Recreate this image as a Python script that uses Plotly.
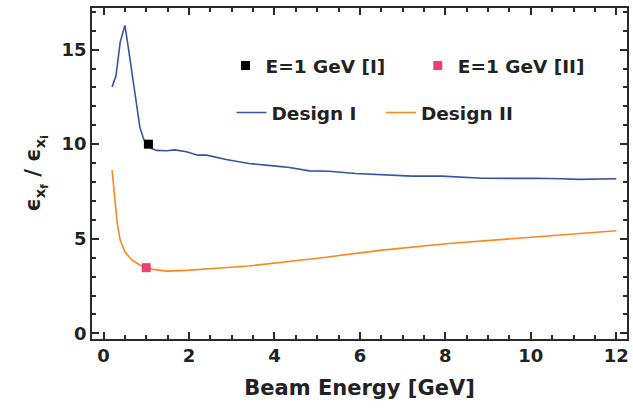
import plotly.graph_objects as go

# Data
design1_x = [0.2, 0.29, 0.39, 0.5, 0.58, 0.68, 0.78, 0.85, 0.95, 1.05, 1.13, 1.24, 1.47, 1.67, 1.94,
             2.21, 2.41, 2.87, 3.4, 4.04, 4.35, 4.82, 5.28, 5.9, 6.52, 7.22, 7.92, 8.86, 9.63, 10.1,
             10.72, 11.11, 12.0]
design1_y = [13.03, 13.6, 15.4, 16.28, 15.1, 13.55, 11.8, 10.9, 10.2, 9.95, 9.77, 9.67, 9.65, 9.7, 9.6,
             9.42, 9.42, 9.19, 8.98, 8.84, 8.77, 8.59, 8.57, 8.45, 8.4, 8.31, 8.31, 8.2, 8.19, 8.2,
             8.17, 8.14, 8.17]

design2_x = [0.2, 0.22, 0.27, 0.32, 0.39, 0.5, 0.66, 0.85, 1.0, 1.16, 1.48, 1.94, 2.64, 3.4, 4.97,
             6.52, 8.08, 9.63, 12.0]
design2_y = [8.63, 8.1, 7.04, 5.81, 4.93, 4.31, 3.88, 3.61, 3.47, 3.38, 3.29, 3.33, 3.44, 3.56, 3.96,
             4.4, 4.75, 5.02, 5.42]

point1_x = [1.05]
point1_y = [10.0]
point2_x = [1.0]
point2_y = [3.47]

x_range = [-0.27, 12.25]
y_range = [-0.3, 17.2]
x_tick_step = 2
x_minor_step = 0.5
y_tick_step = 5
y_minor_step = 1

BLUE = "#3853a4"
ORANGE = "#f7891f"
PINK = "#ec3f74"
TXT = "#222222"
AX = "#2a2a2a"
FONT = "DejaVu Sans"

fig = go.Figure()
fig.add_trace(go.Scatter(x=design1_x, y=design1_y, mode="lines", name="<b>Design I</b>",
                         line=dict(color=BLUE, width=1.6), legend="legend3"))
fig.add_trace(go.Scatter(x=design2_x, y=design2_y, mode="lines", name="<b>Design II</b>",
                         line=dict(color=ORANGE, width=1.6), legend="legend4"))
fig.add_trace(go.Scatter(x=point1_x, y=point1_y, mode="markers", name="<b>E=1 GeV [I]</b>",
                         marker=dict(color="black", symbol="square", size=9), legend="legend"))
fig.add_trace(go.Scatter(x=point2_x, y=point2_y, mode="markers", name="<b>E=1 GeV [II]</b>",
                         marker=dict(color=PINK, symbol="square", size=9), legend="legend2"))

L, R, T, B = 92, 4, 8, 70
W, H = 633, 409
pw, ph = W - L - R, H - T - B

def px(xp):
    return (xp - L) / pw

def py(yp):
    return (H - B - yp) / ph

leg_common = dict(orientation="h", bgcolor="rgba(0,0,0,0)", xanchor="left", yanchor="middle",
                  font=dict(family=FONT, size=18.5, color=TXT))

fig.update_layout(
    width=W, height=H,
    margin=dict(l=L, r=R, t=T, b=B),
    paper_bgcolor="white", plot_bgcolor="white",
    font=dict(family=FONT, color=TXT),
    showlegend=True,
    legend=dict(x=px(226), y=py(66), **leg_common),
    legend2=dict(x=px(419), y=py(66), **leg_common),
    legend3=dict(x=px(232), y=py(113), **leg_common),
    legend4=dict(x=px(382), y=py(113), **leg_common),
    xaxis=dict(
        range=x_range, tickmode="linear", tick0=0, dtick=x_tick_step,
        showgrid=False, zeroline=False, showline=True, linecolor=AX, linewidth=1.6,
        mirror="allticks", ticks="inside", ticklen=7, tickwidth=2, tickcolor=AX,
        minor=dict(dtick=x_minor_step, ticks="inside", ticklen=4, tickwidth=1.5, tickcolor=AX),
        tickprefix="<b>", ticksuffix="</b>",
        tickfont=dict(family=FONT, size=18, color=TXT),
        title=dict(text="<b>Beam Energy [GeV]</b>", font=dict(family=FONT, size=21, color=TXT)),
    ),
    yaxis=dict(
        range=y_range, tickmode="linear", tick0=0, dtick=y_tick_step,
        showgrid=False, zeroline=False, showline=True, linecolor=AX, linewidth=1.6,
        mirror="allticks", ticks="inside", ticklen=7, tickwidth=2, tickcolor=AX,
        minor=dict(dtick=y_minor_step, ticks="inside", ticklen=4, tickwidth=1.5, tickcolor=AX),
        tickprefix="<b>", ticksuffix="</b>",
        tickfont=dict(family=FONT, size=18, color=TXT),
        title=dict(text="<b>ϵ<sub>x<sub>f</sub></sub> / ϵ<sub>x<sub>i</sub></sub></b>",
                   font=dict(family=FONT, size=21, color=TXT)),
    ),
)

fig.write_html("out.html")
